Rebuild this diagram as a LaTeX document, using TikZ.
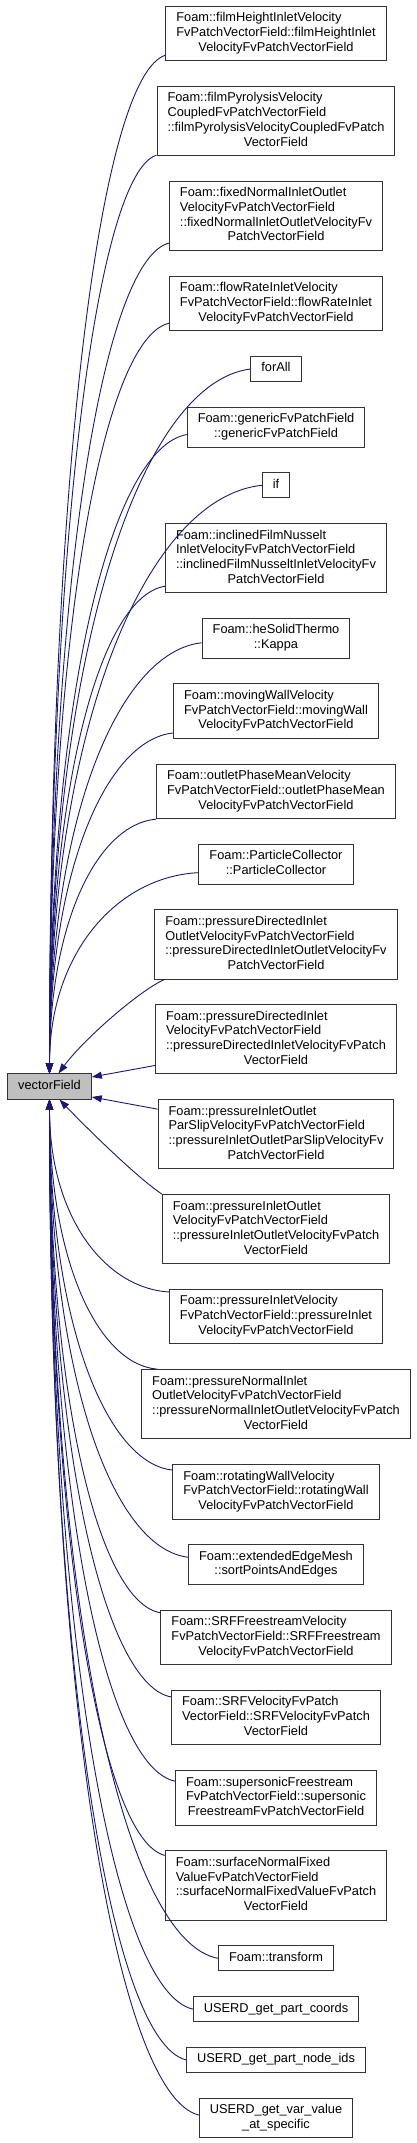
\documentclass[tikz,border=0pt]{standalone}
\usepackage{fontspec}
\setmainfont{Liberation Sans}
\usepackage{xcolor}
\usepackage{tikz}
\usetikzlibrary{
  arrows.meta,
  positioning
}
\definecolor{edgeBlue}{HTML}{191970}
\definecolor{rootFill}{HTML}{BFBFBF}
\definecolor{boxStroke}{HTML}{333333}
\newcommand{\lbl}[1]{\begin{tabular}{@{}l@{}}#1\end{tabular}}
\newcommand{\fl}[1]{\multicolumn{1}{@{}c@{}}{#1}}
\tikzset{
  fn/.style={
    rectangle, draw=boxStroke, fill=white, line width=1pt,
    inner xsep=10.5pt, inner ysep=5.2pt,
    font=\fontsize{12.8}{14.7}\selectfont
  },
  root/.style={fn, fill=rootFill},
  edge/.style={-{Triangle[length=10pt,width=7pt]},
    line width=0.9pt, draw=edgeBlue}
}
\begin{document}
\begin{tikzpicture}[x=1pt, y=-1pt, node distance=24.7pt]
  \useasboundingbox (0,0) rectangle (416,2143);

  % callers
  \node[fn] (filmHeight) at (276,33.5)
    {\lbl{Foam::filmHeightInletVelocity\\FvPatchVectorField::filmHeightInlet\\\fl{VelocityFvPatchVectorField}}};
  \node[fn, below=of filmHeight] (filmPyro)
    {\lbl{Foam::filmPyrolysisVelocity\\CoupledFvPatchVectorField\\::filmPyrolysisVelocityCoupledFvPatch\\\fl{VectorField}}};
  \node[fn, below=of filmPyro] (fixedNormal)
    {\lbl{Foam::fixedNormalInletOutlet\\VelocityFvPatchVectorField\\::fixedNormalInletOutletVelocityFv\\\fl{PatchVectorField}}};
  \node[fn, below=of fixedNormal] (flowRate)
    {\lbl{Foam::flowRateInletVelocity\\FvPatchVectorField::flowRateInlet\\\fl{VelocityFvPatchVectorField}}};
  \node[fn, below=of flowRate] (forAll) {\lbl{forAll}};
  \node[fn, below=of forAll] (generic)
    {\lbl{Foam::genericFvPatchField\\\fl{::genericFvPatchField}}};
  \node[fn, below=of generic] (ifNd) {\lbl{if}};
  \node[fn, below=of ifNd] (inclined)
    {\lbl{Foam::inclinedFilmNusselt\\InletVelocityFvPatchVectorField\\::inclinedFilmNusseltInletVelocityFv\\\fl{PatchVectorField}}};
  \node[fn, below=of inclined] (kappa)
    {\lbl{Foam::heSolidThermo\\\fl{::Kappa}}};
  \node[fn, below=of kappa] (movingWall)
    {\lbl{Foam::movingWallVelocity\\FvPatchVectorField::movingWall\\\fl{VelocityFvPatchVectorField}}};
  \node[fn, below=of movingWall] (outletPhase)
    {\lbl{Foam::outletPhaseMeanVelocity\\FvPatchVectorField::outletPhaseMean\\\fl{VelocityFvPatchVectorField}}};
  \node[fn, below=of outletPhase] (particle)
    {\lbl{Foam::ParticleCollector\\\fl{::ParticleCollector}}};
  \node[fn, below=of particle] (pDirIO)
    {\lbl{Foam::pressureDirectedInlet\\OutletVelocityFvPatchVectorField\\::pressureDirectedInletOutletVelocityFv\\\fl{PatchVectorField}}};
  \node[fn, below=of pDirIO] (pDir)
    {\lbl{Foam::pressureDirectedInlet\\VelocityFvPatchVectorField\\::pressureDirectedInletVelocityFvPatch\\\fl{VectorField}}};
  \node[fn, below=of pDir] (pIOParSlip)
    {\lbl{Foam::pressureInletOutlet\\ParSlipVelocityFvPatchVectorField\\::pressureInletOutletParSlipVelocityFv\\\fl{PatchVectorField}}};
  \node[fn, below=of pIOParSlip] (pIOVel)
    {\lbl{Foam::pressureInletOutlet\\VelocityFvPatchVectorField\\::pressureInletOutletVelocityFvPatch\\\fl{VectorField}}};
  \node[fn, below=of pIOVel] (pInletVel)
    {\lbl{Foam::pressureInletVelocity\\FvPatchVectorField::pressureInlet\\\fl{VelocityFvPatchVectorField}}};
  \node[fn, below=of pInletVel] (pNormal)
    {\lbl{Foam::pressureNormalInlet\\OutletVelocityFvPatchVectorField\\::pressureNormalInletOutletVelocityFvPatch\\\fl{VectorField}}};
  \node[fn, below=of pNormal] (rotWall)
    {\lbl{Foam::rotatingWallVelocity\\FvPatchVectorField::rotatingWall\\\fl{VelocityFvPatchVectorField}}};
  \node[fn, below=of rotWall] (edgeMesh)
    {\lbl{Foam::extendedEdgeMesh\\\fl{::sortPointsAndEdges}}};
  \node[fn, below=of edgeMesh] (srfFree)
    {\lbl{Foam::SRFFreestreamVelocity\\FvPatchVectorField::SRFFreestream\\\fl{VelocityFvPatchVectorField}}};
  \node[fn, below=of srfFree] (srfVel)
    {\lbl{Foam::SRFVelocityFvPatch\\VectorField::SRFVelocityFvPatch\\\fl{VectorField}}};
  \node[fn, below=of srfVel] (supersonic)
    {\lbl{Foam::supersonicFreestream\\FvPatchVectorField::supersonic\\\fl{FreestreamFvPatchVectorField}}};
  \node[fn, below=of supersonic] (surfNormal)
    {\lbl{Foam::surfaceNormalFixed\\ValueFvPatchVectorField\\::surfaceNormalFixedValueFvPatch\\\fl{VectorField}}};
  \node[fn, below=of surfNormal] (transform) {\lbl{Foam::transform}};
  \node[fn, below=of transform] (partCoords) {\lbl{USERD\_get\_part\_coords}};
  \node[fn, below=of partCoords] (partNodeIds) {\lbl{USERD\_get\_part\_node\_ids}};
  \node[fn, below=of partNodeIds] (varValue)
    {\lbl{USERD\_get\_var\_value\\\fl{\_at\_specific}}};

  % the called function
  \node[root] (vf) at (49.5,1086.5) {\lbl{vectorField}};

  % edges from callers above
  \draw[edge] ([yshift=6pt]filmHeight.south west) .. controls +(-64,20) and +(0,-611) .. (vf.north);
  \draw[edge] ([yshift=1pt]filmPyro.south west) .. controls +(-58,18) and +(0,-551) .. (vf.north);
  \draw[edge] ([yshift=8pt]fixedNormal.south west) .. controls +(-65,17) and +(0,-499) .. (vf.north);
  \draw[edge] ([yshift=8pt]flowRate.south west) .. controls +(-65,15) and +(0,-451) .. (vf.north);
  \draw[edge] (forAll.west) .. controls +(-110,14) and +(0,-422) .. (vf.north);
  \draw[edge] ([yshift=13pt]generic.south west) .. controls +(-74,13) and +(0,-383) .. (vf.north);
  \draw[edge] (ifNd.west) .. controls +(-114,12) and +(0,-352) .. (vf.north);
  \draw[edge] ([yshift=7pt]inclined.south west) .. controls +(-64,10) and +(0,-292) .. (vf.north);
  \draw[edge] ([yshift=16pt]kappa.south west) .. controls +(-82,9) and +(0,-258) .. (vf.north);
  \draw[edge] ([yshift=6pt]movingWall.south west) .. controls +(-66,7) and +(0,-205) .. (vf.north);
  \draw[edge] (outletPhase.south west) .. controls +(-58,5) and +(0,-153) .. (vf.north);
  \draw[edge] ([yshift=12pt]particle.south west) .. controls +(-81,4) and +(0,-121) .. (vf.north);
  \draw[edge] ([xshift=10pt]pDirIO.south west) .. controls +(-25,11) and +(25,-34) .. ([xshift=9pt]vf.north);
  \draw[edge] ([yshift=9pt]pDir.south west) -- ([yshift=9.5pt]vf.east);
  % edges from callers below
  \draw[edge] ([yshift=-10pt]pIOParSlip.north west) -- ([yshift=-10.5pt]vf.east);
  \draw[edge] (pIOVel.north west) .. controls +(-27,-18) and +(20,21) .. ([xshift=10pt]vf.south);
  \draw[edge] ([yshift=-3pt]pInletVel.north west) .. controls +(-65,-4) and +(0,116) .. (vf.south);
  \draw[edge] ([xshift=16pt]pNormal.north west) .. controls +(-59,-5) and +(0,162) .. (vf.south);
  \draw[edge] ([yshift=-6pt]rotWall.north west) .. controls +(-66,-7) and +(0,223) .. (vf.south);
  \draw[edge] ([yshift=-13pt]edgeMesh.north west) .. controls +(-76,-9) and +(0,275) .. (vf.south);
  \draw[edge] ([yshift=-3pt]srfFree.north west) .. controls +(-60,-10) and +(0,307) .. (vf.south);
  \draw[edge] ([yshift=-7pt]srfVel.north west) .. controls +(-65,-12) and +(0,358) .. (vf.south);
  \draw[edge] ([yshift=-11pt]supersonic.north west) .. controls +(-68,-14) and +(0,409) .. (vf.south);
  \draw[edge] ([yshift=-5pt]surfNormal.north west) .. controls +(-62,-15) and +(0,453) .. (vf.south);
  \draw[edge] (transform.west) .. controls +(-93,-17) and +(0,515) .. (vf.south);
  \draw[edge] (partCoords.west) .. controls +(-78,-18) and +(0,545) .. (vf.south);
  \draw[edge] (partNodeIds.west) .. controls +(-75,-19) and +(0,575) .. (vf.south);
  \draw[edge] ([yshift=3pt]varValue.west) .. controls +(-81,-20) and +(0,609) .. (vf.south);
\end{tikzpicture}
\end{document}
